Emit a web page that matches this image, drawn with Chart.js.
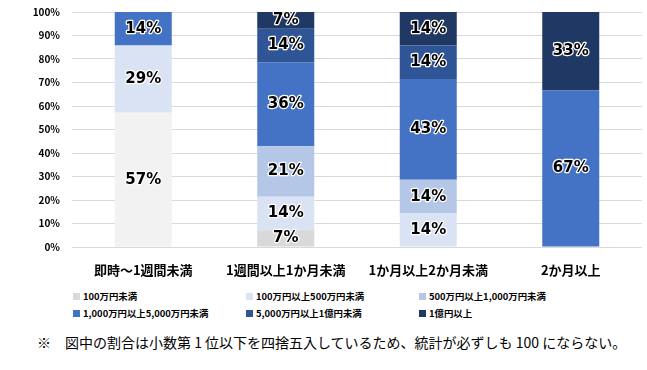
<!DOCTYPE html>
<html>
<head>
<meta charset="utf-8">
<script src="https://cdn.jsdelivr.net/npm/chart.js@4"></script>
<style>
  body { margin: 0; background: #fff; }
  #wrap { position: relative; width: 647px; height: 370px; }
  #chart { position: absolute; left: 0; top: 0; }
  .leg { position: absolute; font: bold 9.4px "Noto Sans CJK JP", sans-serif; color: #000; white-space: nowrap; line-height: 12px; }
  .leg i { display: inline-block; width: 7px; height: 7px; margin-right: 3px; vertical-align: 0px; }
  #note { position: absolute; left: 37px; top: 332px; font: 14px "Noto Sans CJK JP", sans-serif; color: #000; white-space: nowrap; }
</style>
</head>
<body>
<div id="wrap">
  <canvas id="chart" width="647" height="285"></canvas>
  <div id="legend"></div>
  <div id="note">※　図中の割合は小数第 1 位以下を四捨五入しているため、統計が必ずしも 100 にならない。</div>
</div>
<script>
const categories = ["即時～1週間未満", "1週間以上1か月未満", "1か月以上2か月未満", "2か月以上"];
const seriesNames = ["100万円未満", "100万円以上500万円未満", "500万円以上1,000万円未満",
  "1,000万円以上5,000万円未満", "5,000万円以上1億円未満", "1億円以上"];
// percentages per category (label shows rounded value)
const under100 = [57.14, 7.14, 0, 0];
const from100to500 = [28.57, 14.29, 14.29, 0];
const from500to1000 = [0, 21.43, 14.29, 0];
const from1000to5000 = [14.29, 35.71, 42.86, 66.67];
const from5000to1oku = [0, 14.29, 14.29, 0];
const over1oku = [0, 7.14, 14.29, 33.33];
const yTicks = [0, 10, 20, 30, 40, 50, 60, 70, 80, 90, 100];

const colors = [["#F2F2F2", "#D9D9D9", "#D9D9D9", "#D9D9D9"], "#DAE3F3", "#B4C7E7", "#4472C4", "#2F5597", "#203864"];
const legendColors = ["#D9D9D9", "#DAE3F3", "#B4C7E7", "#4472C4", "#2F5597", "#203864"];
const values = [under100, from100to500, from500to1000, from1000to5000, from5000to1oku, over1oku];

const labelPlugin = {
  id: "segLabels",
  afterDatasetsDraw(chart) {
    const ctx = chart.ctx;
    ctx.save();
    ctx.font = "bold 15px 'DejaVu Sans', sans-serif";
    ctx.textAlign = "center";
    ctx.textBaseline = "middle";
    ctx.lineJoin = "round";
    chart.data.datasets.forEach((ds, i) => {
      chart.getDatasetMeta(i).data.forEach((el, j) => {
        const v = ds.data[j];
        if (!v) return;
        const y = (el.y + el.base) / 2;
        const t = Math.round(v) + "%";
        ctx.strokeStyle = "#fff";
        ctx.lineWidth = 2.5;
        ctx.strokeText(t, el.x, y);
        ctx.fillStyle = "#000";
        ctx.fillText(t, el.x, y);
      });
    });
    ctx.restore();
  }
};

const chart = new Chart(document.getElementById("chart"), {
  type: "bar",
  data: {
    labels: categories,
    datasets: seriesNames.map((name, i) => ({
      label: name,
      data: values[i],
      backgroundColor: colors[i],
      borderWidth: 0,
      barPercentage: 0.4,
      categoryPercentage: 1
    }))
  },
  options: {
    responsive: false,
    animation: false,
    layout: { padding: { top: 12, right: 5, left: 0, bottom: 0 } },
    plugins: { legend: { display: false }, tooltip: { enabled: false } },
    scales: {
      x: {
        stacked: true,
        grid: { display: false, drawTicks: false },
        border: { display: false },
        ticks: { padding: 15, color: "#000", font: { family: "'Noto Sans CJK JP'", size: 13, weight: "bold" } },
        afterFit: s => { s.height = 38; }
      },
      y: {
        stacked: true,
        min: 0,
        max: 100,
        afterBuildTicks: s => { s.ticks = yTicks.map(v => ({ value: v })); },
        grid: { color: "#D9D9D9", drawTicks: false },
        border: { display: false },
        ticks: {
          padding: 12,
          color: "#000",
          font: { family: "'Noto Sans CJK JP'", size: 10, weight: "bold" },
          callback: v => v + "%"
        },
        afterFit: s => { s.width = 72; s.paddingTop = 0; s.paddingBottom = 0; }
      }
    }
  },
  plugins: [labelPlugin]
});

// legend in three columns, two rows
const legPos = [[73, 290], [246, 290], [419, 290], [73, 307], [246, 307], [419, 307]];
const legend = document.getElementById("legend");
chart.data.datasets.forEach((ds, i) => {
  const d = document.createElement("div");
  d.className = "leg";
  d.style.left = legPos[i][0] + "px";
  d.style.top = legPos[i][1] + "px";
  d.innerHTML = '<i style="background:' + legendColors[i] + '"></i>' + ds.label;
  legend.appendChild(d);
});
</script>
</body>
</html>
